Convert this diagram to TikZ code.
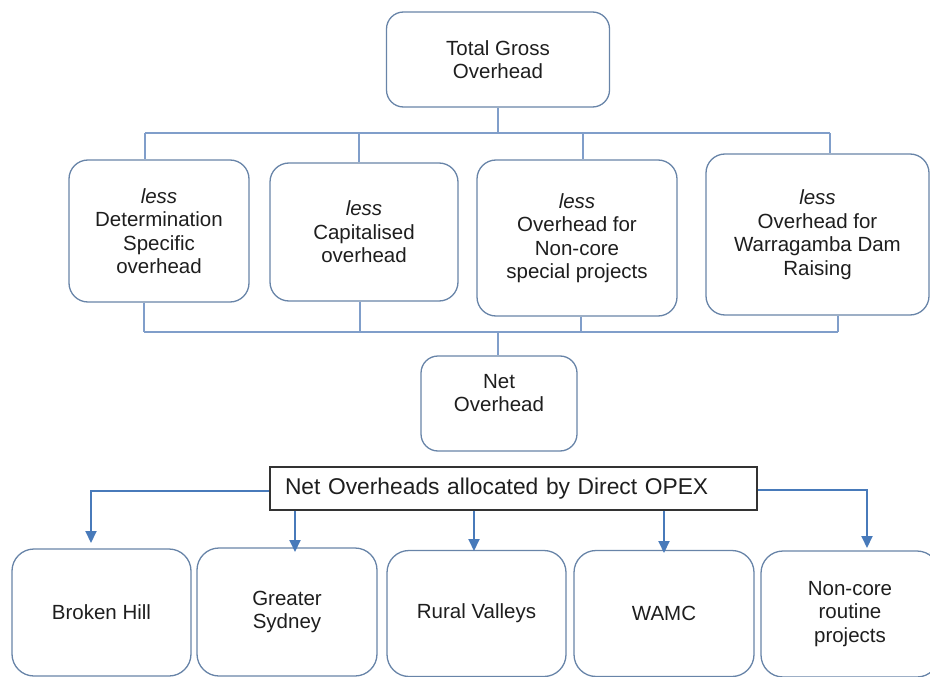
\documentclass[tikz,border=0pt]{standalone}
\usepackage{fontspec}
\setmainfont{Liberation Sans}
\usetikzlibrary{arrows.meta}
\definecolor{boxc}{RGB}{104,132,168}
\definecolor{connc}{RGB}{128,158,202}
\definecolor{arrc}{RGB}{72,122,186}
\definecolor{txtc}{RGB}{30,30,30}
\begin{document}
\begin{tikzpicture}[x=1pt,y=-1pt,
  box/.style={draw=boxc, line width=1.3pt, rounded corners=19pt, align=center, inner sep=0pt,
    font=\fontsize{20.5}{23.5}\selectfont, text=txtc},
  conn/.style={draw=connc, line width=1.6pt},
  arr/.style={draw=arrc, line width=2pt, -{Triangle[width=11pt,length=12pt]}},
  allocbox/.style={draw=black!80, line width=1.2pt, inner xsep=15pt, inner ysep=0pt, text width=457pt,
    align=left, minimum height=43pt, font=\fontsize{22.8}{26}\selectfont, text=txtc},
  txt/.style={align=center, inner sep=0pt, font=\fontsize{20.5}{23.5}\selectfont, text=txtc}
]
\useasboundingbox (0,0) rectangle (930,677);
\clip (0,0) rectangle (930,677);

% top
\node[box, minimum width=223pt, minimum height=95pt, rounded corners=17pt] (top) at (498,59.5) {Total Gross\\Overhead};

% second row
\node[box, minimum width=180pt, minimum height=142pt] (b1) at (159,231) {\textit{less}\\Determination\\Specific\\overhead};
\node[box, minimum width=188pt, minimum height=138pt] (b2) at (364,232) {\textit{less}\\Capitalised\\overhead};
\node[box, minimum width=200pt, minimum height=156pt] (b3) at (577,238) {\textit{less}\\Overhead for\\Non-core\\special projects};
\node[box, minimum width=223pt, minimum height=161pt] (b4) at (817.5,234.5) {\textit{less}\\Overhead for\\Warragamba Dam\\Raising};

% net overhead
\node[box, minimum width=156pt, minimum height=95pt, rounded corners=17pt] (net) at (499,403.5) {};
\node[txt] (nettxt) at (499,393) {Net\\Overhead};

% allocation box
\node[allocbox] (alloc) at (513.5,488.5) {Net Overheads allocated by Direct OPEX};

% bottom row
\node[box, minimum width=179pt, minimum height=127pt, rounded corners=22pt] (c1) at (101.5,612.5) {Broken Hill};
\node[box, minimum width=180pt, minimum height=128pt, rounded corners=22pt] (c2) at (287,612) {Greater\\Sydney};
\node[box, minimum width=179pt, minimum height=126pt, rounded corners=22pt] (c3) at (476.5,613.5) {Rural Valleys};
\node[box, minimum width=180pt, minimum height=126pt, rounded corners=22pt] (c4) at (664,613.5) {WAMC};
\node[box, minimum width=178pt, minimum height=126pt, rounded corners=22pt] (c5) at (850,614) {Non-core\\routine\\projects};

% upper bar
\coordinate (t1) at (145,133);
\coordinate (t2) at (359,133);
\coordinate (t3) at (583,133);
\coordinate (t4) at (830,133);
\coordinate (tm) at (498,133);
\draw[conn] (top.south) -- (tm);
\draw[conn] (t1) -- (t4);
\draw[conn] (t1) -- (t1 |- b1.north);
\draw[conn] (t2) -- (t2 |- b2.north);
\draw[conn] (t3) -- (t3 |- b3.north);
\draw[conn] (t4) -- (t4 |- b4.north);

% lower bar
\coordinate (u1) at (144,332);
\coordinate (u2) at (360,332);
\coordinate (u3) at (581,332);
\coordinate (u4) at (838,332);
\coordinate (um) at (498,332);
\draw[conn] (u1) -- (u4);
\draw[conn] (b1.south -| u1) -- (u1);
\draw[conn] (b2.south -| u2) -- (u2);
\draw[conn] (b3.south -| u3) -- (u3);
\draw[conn] (b4.south -| u4) -- (u4);
\draw[conn] (um) -- (um |- net.north);

% arrows
\coordinate (a1) at (91,543);
\coordinate (a2) at (295,552);
\coordinate (a3) at (474,551);
\coordinate (a4) at (664,553);
\coordinate (a5) at (867,548);
\draw[arr] ([yshift=-2pt]alloc.west) -| (a1);
\draw[arr] (alloc.south -| a2) -- (a2);
\draw[arr] (alloc.south -| a3) -- (a3);
\draw[arr] (alloc.south -| a4) -- (a4);
\draw[arr] ([yshift=-1pt]alloc.east) -| (a5);
\end{tikzpicture}
\end{document}
